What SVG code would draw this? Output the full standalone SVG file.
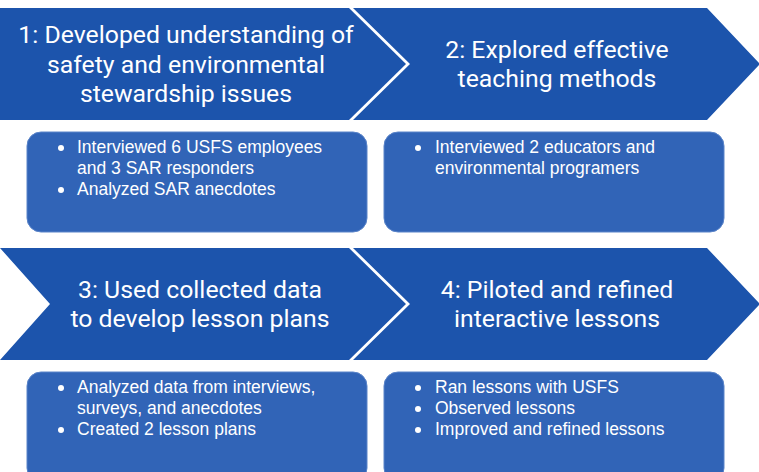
<svg xmlns="http://www.w3.org/2000/svg" width="759" height="472" viewBox="0 0 759 472">
  <style>
    .chev { fill: #1c54ac; }
    .box { fill: #3164b7; stroke: #5a84c9; stroke-width: 1; }
    .title { font-family: Roboto, "Liberation Sans", sans-serif; font-size: 24.8px; fill: #ffffff; text-anchor: middle; }
    .item { font-family: "Liberation Sans", Arial, sans-serif; font-size: 17.5px; fill: #ffffff; }
    .dot { fill: #ffffff; }
  </style>
  <rect width="759" height="472" fill="#ffffff"/>

  <!-- Step 1 -->
  <g id="step1">
    <polygon class="chev" points="0,8 349,8 406,64 349,120 0,120"/>
    <text class="title" x="186" y="43">1: Developed understanding of</text>
    <text class="title" x="186" y="73">safety and environmental</text>
    <text class="title" x="186" y="102">stewardship issues</text>
  </g>

  <!-- Step 2 -->
  <g id="step2">
    <polygon class="chev" points="353,8 707,8 760,64 707,120 353,120 410,64"/>
    <text class="title" x="557" y="58">2: Explored effective</text>
    <text class="title" x="557" y="87">teaching methods</text>
  </g>

  <!-- Details for step 1 -->
  <g id="detail1">
    <rect class="box" x="27" y="132" width="340" height="100" rx="14"/>
    <circle class="dot" cx="61" cy="148" r="3"/>
    <text class="item" x="77" y="153">Interviewed 6 USFS employees</text>
    <text class="item" x="77" y="174">and 3 SAR responders</text>
    <circle class="dot" cx="61" cy="190" r="3"/>
    <text class="item" x="77" y="195">Analyzed SAR anecdotes</text>
  </g>

  <!-- Details for step 2 -->
  <g id="detail2">
    <rect class="box" x="384" y="132" width="340" height="100" rx="14"/>
    <circle class="dot" cx="418" cy="148" r="3"/>
    <text class="item" x="435" y="153">Interviewed 2 educators and</text>
    <text class="item" x="435" y="174">environmental programers</text>
  </g>

  <!-- Step 3 -->
  <g id="step3">
    <polygon class="chev" points="0,248 349,248 406,304 349,360 0,360 50,304"/>
    <text class="title" x="200" y="298">3: Used collected data</text>
    <text class="title" x="200" y="327">to develop lesson plans</text>
  </g>

  <!-- Step 4 -->
  <g id="step4">
    <polygon class="chev" points="353,248 707,248 760,304 707,360 353,360 410,304"/>
    <text class="title" x="557" y="298">4: Piloted and refined</text>
    <text class="title" x="557" y="327">interactive lessons</text>
  </g>

  <!-- Details for step 3 -->
  <g id="detail3">
    <rect class="box" x="27" y="372" width="340" height="110" rx="14"/>
    <circle class="dot" cx="61" cy="388" r="3"/>
    <text class="item" x="77" y="393">Analyzed data from interviews,</text>
    <text class="item" x="77" y="414">surveys, and anecdotes</text>
    <circle class="dot" cx="61" cy="430" r="3"/>
    <text class="item" x="77" y="435">Created 2 lesson plans</text>
  </g>

  <!-- Details for step 4 -->
  <g id="detail4">
    <rect class="box" x="384" y="372" width="340" height="110" rx="14"/>
    <circle class="dot" cx="418" cy="388" r="3"/>
    <text class="item" x="435" y="393">Ran lessons with USFS</text>
    <circle class="dot" cx="418" cy="409" r="3"/>
    <text class="item" x="435" y="414">Observed lessons</text>
    <circle class="dot" cx="418" cy="430" r="3"/>
    <text class="item" x="435" y="435">Improved and refined lessons</text>
  </g>

  <!-- No connectors: the steps flow through the chevron shapes -->
  <g id="connectors"/>
</svg>
